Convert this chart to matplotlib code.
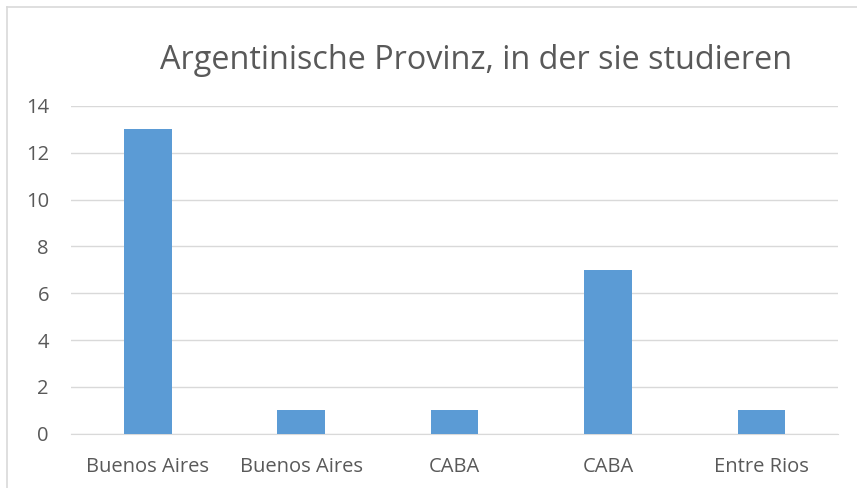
import matplotlib.pyplot as plt
from matplotlib.lines import Line2D

# Categories and counts
provinces = ['Buenos Aires', 'Buenos Aires', 'CABA', 'CABA', 'Entre Rios']
counts = [13, 1, 1, 7, 1]
y_ticks = [0, 2, 4, 6, 8, 10, 12, 14]

plt.rcParams['font.family'] = ['Open Sans', 'DejaVu Sans']

fig = plt.figure(figsize=(8.57, 4.88), dpi=100)
ax = fig.add_axes([0.083, 0.111, 0.895, 0.672])

positions = list(range(len(provinces)))
ax.bar(positions, counts, width=0.31, color='#5B9BD5', zorder=3)

ax.set_xlim(-0.5, len(provinces) - 0.5)
ax.set_ylim(0, 14)
ax.set_yticks(y_ticks)
ax.set_xticks(positions)
ax.set_xticklabels(provinces)
ax.yaxis.grid(True, color='#D9D9D9', linewidth=1, zorder=0)
ax.tick_params(axis='both', length=0, colors='#595959', labelsize=14.5)
ax.tick_params(axis='x', pad=17)
ax.tick_params(axis='y', pad=16)
for side in ['top', 'right', 'left']:
    ax.spines[side].set_visible(False)
ax.spines['bottom'].set_color('#D9D9D9')

fig.text(0.555, 0.877, 'Argentinische Provinz, in der sie studieren',
         ha='center', va='center', fontsize=23.3, color='#595959')

# light border round the chart (only left and top are inside the picture)
x0 = 7.5 / 857
y0 = 1 - 6.5 / 488
fig.lines.append(Line2D([x0, x0], [0, y0], transform=fig.transFigure,
                        color='#D9D9D9', linewidth=1.2))
fig.lines.append(Line2D([x0, 1], [y0, y0], transform=fig.transFigure,
                        color='#D9D9D9', linewidth=1.2))

plt.savefig('out.png', dpi=100)
